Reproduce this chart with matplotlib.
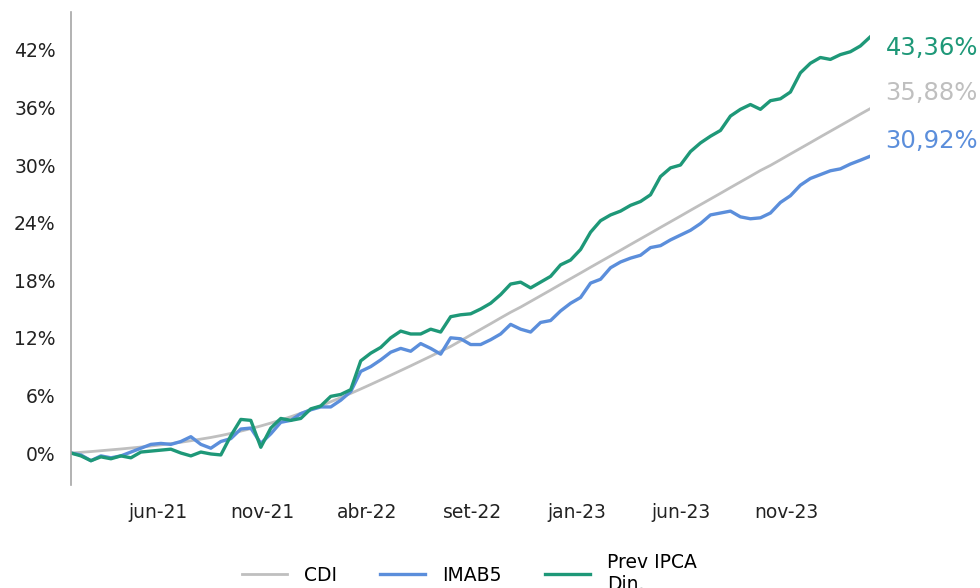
import matplotlib
matplotlib.use("Agg")
import matplotlib.pyplot as plt
from matplotlib.ticker import FuncFormatter

cdi = [0.00, 0.07, 0.15, 0.24, 0.33, 0.42, 0.52, 0.62, 0.73, 0.85,
       0.98, 1.12, 1.28, 1.45, 1.62, 1.82, 2.04, 2.28, 2.54, 2.82,
       3.12, 3.44, 3.78, 4.14, 4.52, 4.92, 5.34, 5.77, 6.21, 6.67,
       7.14, 7.62, 8.10, 8.59, 9.08, 9.58, 10.08, 10.59, 11.10, 11.69,
       12.29, 12.88, 13.47, 14.07, 14.66, 15.20, 15.79, 16.38, 16.97, 17.57,
       18.16, 18.75, 19.35, 19.94, 20.53, 21.12, 21.72, 22.31, 22.90, 23.50,
       24.09, 24.68, 25.28, 25.87, 26.46, 27.05, 27.65, 28.24, 28.83, 29.43,
       29.96, 30.55, 31.15, 31.74, 32.33, 32.93, 33.52, 34.11, 34.70, 35.30, 35.88]

imab5 = [0.0, -0.2, -0.8, -0.3, -0.5, -0.3, 0.1, 0.5, 0.9, 1.0,
         0.9, 1.2, 1.7, 0.9, 0.5, 1.2, 1.5, 2.5, 2.6, 1.0,
         2.0, 3.2, 3.4, 4.1, 4.5, 4.8, 4.8, 5.5, 6.4, 8.5,
         9.0, 9.7, 10.5, 10.9, 10.6, 11.4, 10.9, 10.3, 12.0, 11.9,
         11.3, 11.3, 11.8, 12.4, 13.4, 12.9, 12.6, 13.6, 13.8, 14.8,
         15.6, 16.2, 17.7, 18.1, 19.3, 19.9, 20.3, 20.6, 21.4, 21.6,
         22.2, 22.7, 23.2, 23.9, 24.8, 25.0, 25.2, 24.6, 24.4, 24.5,
         25.0, 26.1, 26.8, 27.9, 28.6, 29.0, 29.4, 29.6, 30.1, 30.5, 30.92]

prev_ipca = [0.0, -0.3, -0.8, -0.4, -0.6, -0.3, -0.5, 0.1, 0.2, 0.3,
             0.4, 0.0, -0.3, 0.1, -0.1, -0.2, 1.8, 3.5, 3.4, 0.6,
             2.6, 3.6, 3.4, 3.6, 4.6, 4.9, 5.9, 6.1, 6.6, 9.6,
             10.4, 11.0, 12.0, 12.7, 12.4, 12.4, 12.9, 12.6, 14.2, 14.4,
             14.5, 15.0, 15.6, 16.5, 17.6, 17.8, 17.2, 17.8, 18.4, 19.6,
             20.1, 21.2, 23.0, 24.2, 24.8, 25.2, 25.8, 26.2, 26.9, 28.8,
             29.7, 30.0, 31.4, 32.3, 33.0, 33.6, 35.1, 35.8, 36.3, 35.8,
             36.7, 36.9, 37.6, 39.6, 40.6, 41.2, 41.0, 41.5, 41.8, 42.4, 43.36]

tick_labels = ["jun-21", "nov-21", "abr-22", "set-22", "jan-23", "jun-23", "nov-23"]
end_labels = ["35,88%", "30,92%", "43,36%"]

series = [("CDI", cdi, "#BFBFBF", 2.0),
          ("IMAB5", imab5, "#5B8EDB", 2.4),
          ("Prev IPCA\nDin.", prev_ipca, "#1E9878", 2.4)]
label_offsets = [(11, 11), (11, 11), (11, -8)]

plt.rcParams["font.family"] = ["DejaVu Sans"]
fig = plt.figure(figsize=(9.8, 5.88), dpi=100)
ax = fig.add_axes([0.0724, 0.1752, 0.8157, 0.8044])

x = list(range(len(cdi)))
for (name, vals, color, lw), txt, off in zip(series, end_labels, label_offsets):
    ax.plot(x, vals, color=color, lw=lw, label=name, solid_joinstyle="round")
    ax.annotate(txt, (x[-1], vals[-1]), xytext=off, textcoords="offset points",
                color=color, fontsize=17.5, va="center", ha="left",
                annotation_clip=False)

ax.set_xlim(0, len(cdi) - 1)
ax.set_ylim(-3.33, 45.94)
ax.set_yticks(range(0, 43, 6))
ax.yaxis.set_major_formatter(FuncFormatter(lambda v, p: f"{v:.0f}%"))
ax.set_xticks([8.73 + 10.47 * i for i in range(len(tick_labels))])
ax.set_xticklabels(tick_labels)
ax.tick_params(axis="both", length=0, labelsize=13.5, colors="#222222")
ax.tick_params(axis="x", pad=13)
ax.tick_params(axis="y", pad=11)

for s in ["top", "right", "bottom"]:
    ax.spines[s].set_visible(False)
ax.spines["left"].set_color("#A6A6A6")
ax.spines["left"].set_linewidth(1.2)

fig.legend(loc="center", bbox_to_anchor=(0.479, 0.0255), ncol=3, frameon=False,
           fontsize=13.5, handlelength=2.4, handletextpad=0.9, columnspacing=2.3)

fig.savefig("out.png", dpi=100)
